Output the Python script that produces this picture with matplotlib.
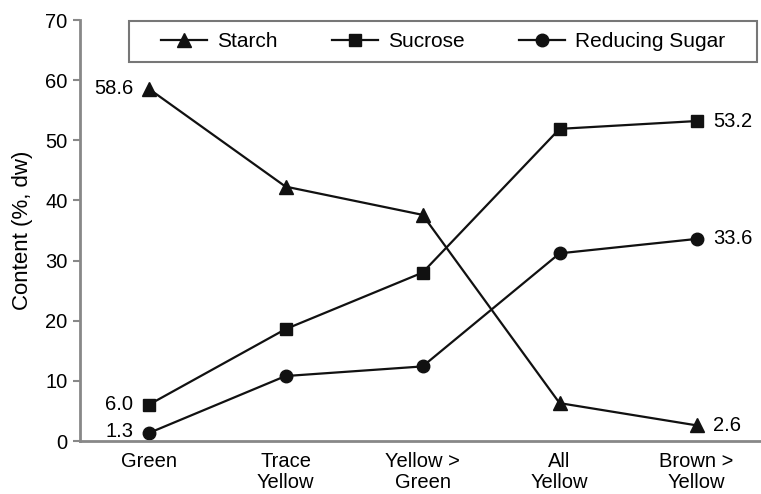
import matplotlib
matplotlib.use("Agg")
import matplotlib.pyplot as plt
from matplotlib.patches import Rectangle

plt.rcParams['font.family'] = ['Liberation Sans', 'DejaVu Sans']

stages = ["Green", "Trace\nYellow", "Yellow >\nGreen", "All\nYellow", "Brown >\nYellow"]
starch = [58.6, 42.3, 37.6, 6.3, 2.6]
sucrose = [6.0, 18.6, 28.0, 51.9, 53.2]
reducing_sugar = [1.3, 10.8, 12.4, 31.2, 33.6]

fig = plt.figure(figsize=(7.61, 4.94), dpi=100)
ax = fig.add_axes([80 / 761, 53 / 494, 681 / 761, 421 / 494])

x = list(range(len(stages)))
line_kw = dict(color="#111111", lw=1.6, markeredgecolor="#111111")
ax.plot(x, starch, marker="^", ms=10, label="Starch", **line_kw)
ax.plot(x, sucrose, marker="s", ms=9, label="Sucrose", **line_kw)
ax.plot(x, reducing_sugar, marker="o", ms=9, label="Reducing Sugar", **line_kw)

# end-point value labels
fs = 14.5
ax.annotate(f"{starch[0]:.1f}", (x[0], starch[0]), xytext=(-11, 0),
            textcoords="offset points", ha="right", va="center", fontsize=fs)
ax.annotate(f"{sucrose[0]:.1f}", (x[0], sucrose[0]), xytext=(-11, 0),
            textcoords="offset points", ha="right", va="center", fontsize=fs)
ax.annotate(f"{reducing_sugar[0]:.1f}", (x[0], reducing_sugar[0]), xytext=(-11, 1),
            textcoords="offset points", ha="right", va="center", fontsize=fs)
for series in (starch, sucrose, reducing_sugar):
    ax.annotate(f"{series[-1]:.1f}", (x[-1], series[-1]), xytext=(12, 0),
                textcoords="offset points", ha="left", va="center", fontsize=fs)

ax.set_xlim(-0.5, 4.47)
ax.set_ylim(0, 70)
ax.set_yticks(range(0, 71, 10))
ax.set_xticks(x)
ax.set_xticklabels(stages, fontsize=fs, linespacing=1.15)
ax.tick_params(axis="y", labelsize=14.5, length=5, width=1.5, color="#888888", pad=4)
ax.tick_params(axis="x", length=0, pad=8)
ax.set_ylabel("Content (%, dw)", fontsize=16, labelpad=9)

for side in ("top", "right"):
    ax.spines[side].set_visible(False)
for side in ("left", "bottom"):
    ax.spines[side].set_color("#888888")
    ax.spines[side].set_linewidth(2)

# legend box drawn separately so its padding can be set freely
box_x0, box_w = 49 / 681, 628 / 681
box_y0, box_h = 0.900, 0.0976
ax.add_patch(Rectangle((box_x0, box_y0), box_w, box_h, transform=ax.transAxes,
                       facecolor="white", edgecolor="#777777", lw=1.5,
                       zorder=4, clip_on=False))
leg = ax.legend(ncol=3, loc="center",
                bbox_to_anchor=(box_x0 + box_w / 2, box_y0 + box_h / 2),
                frameon=False, fontsize=15, handlelength=2.2,
                handletextpad=0.5, columnspacing=2.6, borderpad=0)
leg.set_zorder(5)

fig.savefig("out.png", dpi=100)
